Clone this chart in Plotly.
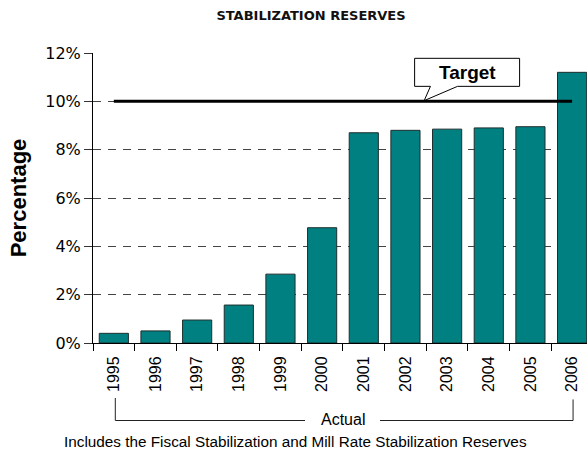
import plotly.graph_objects as go

# Stabilization reserves as a percentage, by fiscal year
years = ["1995", "1996", "1997", "1998", "1999", "2000",
         "2001", "2002", "2003", "2004", "2005", "2006"]
reserve_pct = [0.4, 0.5, 0.95, 1.57, 2.85, 4.77,
               8.7, 8.8, 8.85, 8.9, 8.95, 11.2]
target_pct = 10
y_ticks = [0, 2, 4, 6, 8, 10, 12]
y_tick_labels = ["0%", "2%", "4%", "6%", "8%", "10%", "12%"]

W, H = 587, 452
M_L, M_R, M_T, M_B = 93, 0, 53, 109
SLOT = 41.66  # pixel width of one category slot
plot_w = W - M_L - M_R
plot_h = H - M_T - M_B
x_range = [-0.5, -0.5 + plot_w / SLOT]


def xpaper(idx):
    """Category index -> paper fraction along the x axis."""
    return (idx - x_range[0]) / (x_range[1] - x_range[0])


def ypaper(px):
    """Pixel row in the page -> paper fraction along the y axis."""
    return (H - M_B - px) / plot_h


fig = go.Figure()

fig.add_trace(go.Bar(
    x=years, y=reserve_pct,
    marker=dict(color="#008080", line=dict(color="#1e2e2e", width=1)),
    width=0.7,
    showlegend=False,
))

# Target line across the full span of years
fig.add_trace(go.Scatter(
    x=[years[0], years[-1]], y=[target_pct, target_pct],
    mode="lines", line=dict(color="black", width=3),
    showlegend=False, hoverinfo="skip",
))

# Callout box with tail pointing at the target line
bx0, bx1 = 7.22, 9.74
by0, by1 = 10.62, 11.78
tail_a, tail_b, tip = 7.6, 8.25, 7.45
callout = (f"M {bx0},{by0} L {bx0},{by1} L {bx1},{by1} L {bx1},{by0} "
           f"L {tail_b},{by0} L {tip},{target_pct + 0.03} L {tail_a},{by0} Z")
fig.add_shape(type="path", path=callout, xref="x", yref="y",
              line=dict(color="black", width=1), fillcolor="white", layer="above")
fig.add_annotation(x=(bx0 + bx1) / 2, y=(by0 + by1) / 2, xref="x", yref="y",
                   text="<b>Target</b>", showarrow=False,
                   font=dict(family="Arial", size=19, color="black"))

# "Actual" bracket under the year labels
br_top, br_bot = ypaper(398), ypaper(420.5)
xl, xr = xpaper(0) + 0.003, xpaper(11) + 0.002
gap_l, gap_r = (305 - M_L) / plot_w, (380 - M_L) / plot_w
for path in [
    f"M {xl},{br_top} L {xl},{br_bot} L {gap_l},{br_bot}",
    f"M {gap_r},{br_bot} L {xr},{br_bot} L {xr},{br_top - 0.005}",
]:
    fig.add_shape(type="path", path=path, xref="paper", yref="paper",
                  line=dict(color="#222222", width=1))
fig.add_annotation(x=(gap_l + gap_r) / 2, y=ypaper(419), xref="paper", yref="paper",
                   text="Actual", showarrow=False, yanchor="middle",
                   font=dict(family="Arial", size=16, color="black"))

fig.add_annotation(x=(295 - M_L) / plot_w, y=ypaper(441.5), xref="paper", yref="paper",
                   text="Includes the Fiscal Stabilization and Mill Rate Stabilization Reserves",
                   showarrow=False, yanchor="middle", xanchor="center",
                   font=dict(family="Arial", size=15.3, color="black"))

fig.update_layout(
    width=W, height=H,
    margin=dict(l=M_L, r=M_R, t=M_T, b=M_B),
    paper_bgcolor="white", plot_bgcolor="white",
    title=dict(text="<b>STABILIZATION RESERVES</b>", x=311 / W, xanchor="center",
               y=1 - 15 / H, yanchor="middle",
               font=dict(family="DejaVu Sans", size=13, color="#111111")),
    bargap=0.3,
    xaxis=dict(
        type="category", range=x_range,
        showline=True, linecolor="black", linewidth=1,
        ticks="outside", tickson="boundaries", ticklen=7, tickcolor="black",
        tickangle=-90, showgrid=False, ticklabelstandoff=6,
        tickfont=dict(family="Arial", size=16, color="black"),
    ),
    yaxis=dict(
        range=[0, 12], tickvals=y_ticks, ticktext=y_tick_labels,
        showline=True, linecolor="black", linewidth=1,
        ticks="outside", ticklen=8, tickcolor="#333333",
        showgrid=True, gridcolor="#444444", gridwidth=1, griddash="8px,7px",
        zeroline=False,
        tickfont=dict(family="DejaVu Sans", size=16, color="black"),
        title=dict(text="<b>Percentage</b>", standoff=12,
                   font=dict(family="Arial", size=22, color="black")),
    ),
)

fig.write_html("out.html")
